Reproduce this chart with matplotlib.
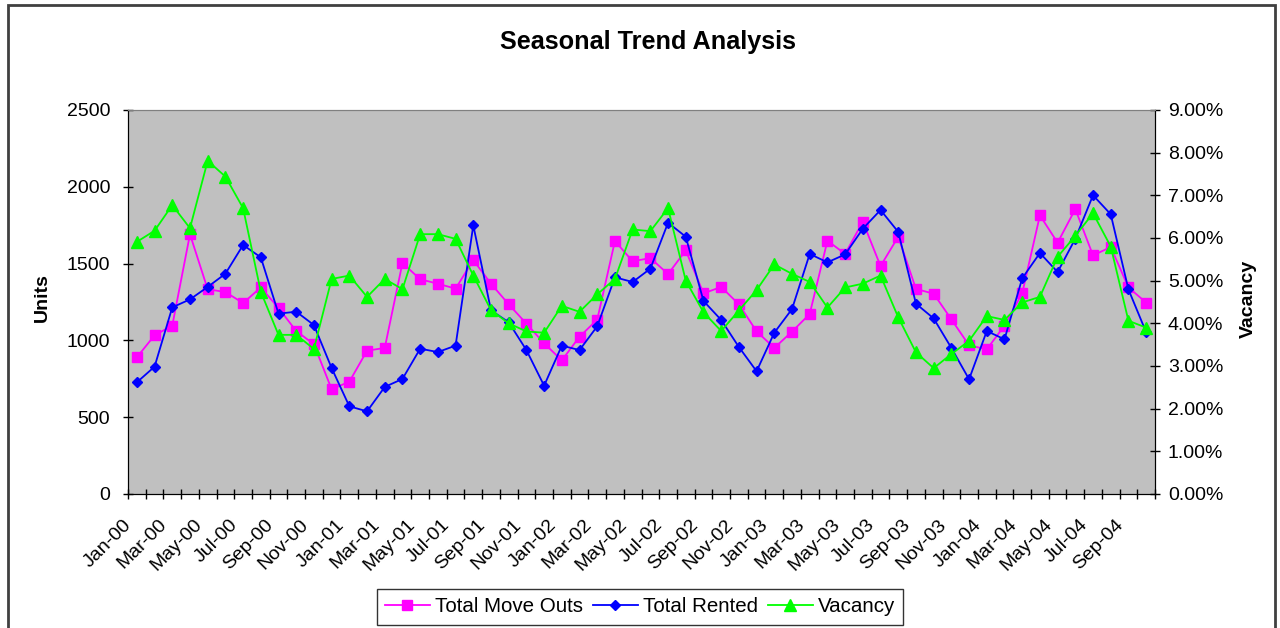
import numpy as np
import matplotlib
matplotlib.use("Agg")
import matplotlib.pyplot as plt
from matplotlib.patches import Rectangle
from matplotlib.ticker import FuncFormatter
from matplotlib.transforms import ScaledTranslation

plt.rcParams['font.family'] = ['Liberation Sans', 'DejaVu Sans']

# month labels Jan-00 .. Oct-04
mon = ['Jan', 'Feb', 'Mar', 'Apr', 'May', 'Jun', 'Jul', 'Aug', 'Sep', 'Oct', 'Nov', 'Dec']
months = [f"{m}-{y:02d}" for y in range(0, 5) for m in mon][:58]

move_outs = [890, 1033, 1096, 1691, 1333, 1315, 1243, 1345, 1211, 1061,
             975, 682, 731, 933, 951, 1504, 1398, 1369, 1337, 1523,
             1369, 1235, 1109, 981, 870, 1024, 1135, 1647, 1515, 1536,
             1432, 1586, 1306, 1348, 1235, 1059, 951, 1057, 1172, 1649,
             1563, 1773, 1484, 1675, 1335, 1304, 1137, 968, 942, 1096,
             1306, 1814, 1636, 1855, 1553, 1608, 1345, 1246]

rented = [727, 829, 1215, 1267, 1348, 1434, 1621, 1541, 1174, 1187,
          1100, 820, 571, 538, 697, 749, 946, 924, 966, 1749,
          1196, 1118, 937, 705, 966, 937, 1092, 1411, 1380, 1467,
          1766, 1675, 1257, 1133, 957, 799, 1050, 1204, 1563, 1508,
          1560, 1727, 1849, 1706, 1239, 1143, 951, 747, 1061, 1007,
          1404, 1569, 1445, 1662, 1945, 1821, 1332, 1053]

# vacancy in percent
vacancy = [5.91, 6.17, 6.77, 6.23, 7.81, 7.44, 6.70, 4.74, 3.73, 3.73,
           3.40, 5.04, 5.12, 4.62, 5.04, 4.80, 6.09, 6.09, 5.98, 5.12,
           4.31, 4.00, 3.81, 3.78, 4.41, 4.27, 4.68, 5.04, 6.20, 6.16,
           6.70, 5.00, 4.26, 3.82, 4.30, 4.78, 5.38, 5.16, 4.97, 4.37,
           4.84, 4.93, 5.12, 4.14, 3.32, 2.95, 3.28, 3.59, 4.17, 4.08,
           4.49, 4.62, 5.56, 6.05, 6.58, 5.80, 4.06, 3.90]

x = np.arange(len(months))

fig = plt.figure(figsize=(12.8, 6.28), dpi=100)
ax = fig.add_axes([128 / 1280, 1 - 494 / 628, 1027 / 1280, 384 / 628])
ax.set_facecolor('#C0C0C0')
ax2 = ax.twinx()

l1, = ax.plot(x, move_outs, color='#FF00FF', marker='s', markersize=7,
              linewidth=1.3, label='Total Move Outs')
l2, = ax.plot(x, rented, color='#0000FF', marker='D', markersize=5.5,
              linewidth=1.3, label='Total Rented')
l3, = ax2.plot(x, vacancy, color='#00FF00', marker='^', markersize=8,
               linewidth=1.3, label='Vacancy')

ax.set_xlim(-0.5, len(months) - 0.5)
ax.set_ylim(0, 2500)
ax2.set_ylim(0, 9)
ax.set_yticks(np.arange(0, 2501, 500))
ax2.set_yticks(np.arange(0, 9.01, 1))
ax2.yaxis.set_major_formatter(FuncFormatter(lambda v, p: f"{v:.2f}%"))

# ticks between categories, labels every other month
ax.set_xticks(np.arange(-0.5, len(months), 1))
ax.set_xticklabels([])
ax.set_xticks(x[::2], minor=True)
ax.set_xticklabels(months[::2], minor=True, rotation=45, ha='right',
                   va='top', rotation_mode='anchor', fontsize=14)
ax.tick_params(axis='x', which='minor', length=0, pad=0)
ax.tick_params(axis='x', which='major', direction='inout', length=6.5, width=1)
shift = ScaledTranslation(-0.14, -0.22, fig.dpi_scale_trans)
for lab in ax.get_xticklabels(minor=True):
    lab.set_transform(lab.get_transform() + shift)

ax.tick_params(axis='y', direction='inout', length=6.5, width=1, labelsize=14, pad=9.5)
ax2.tick_params(axis='y', direction='inout', length=6.5, width=1, labelsize=14, pad=6)

for a in (ax, ax2):
    a.spines['top'].set_color('#808080')
    a.spines['left'].set_color('black')
    a.spines['right'].set_color('black')
    a.spines['bottom'].set_color('black')

fig.text(648 / 1280, 1 - 42 / 628, 'Seasonal Trend Analysis', fontsize=18.2,
         fontweight='bold', ha='center', va='center')
fig.text(42 / 1280, 1 - 298 / 628, 'Units', fontsize=14, fontweight='bold',
         rotation=90, ha='center', va='center')
fig.text(1248 / 1280, 1 - 299 / 628, 'Vacancy', fontsize=14, fontweight='bold',
         rotation=90, ha='center', va='center')

leg = fig.legend(handles=[l1, l2, l3], loc='center', ncol=3,
                 bbox_to_anchor=(640 / 1280, 1 - 607 / 628), fontsize=14.8,
                 frameon=True, fancybox=False, edgecolor='black',
                 handlelength=2.17, handletextpad=0.25, columnspacing=0.5,
                 borderpad=0.4, borderaxespad=0)
leg.get_frame().set_linewidth(1)

# outer chart border
fig.patches.append(Rectangle((8 / 1280, -0.05), 1267 / 1280, 1.05 - 5 / 628,
                             transform=fig.transFigure, fill=False,
                             edgecolor='#404040', linewidth=2))

fig.savefig('out.png', dpi=100)
